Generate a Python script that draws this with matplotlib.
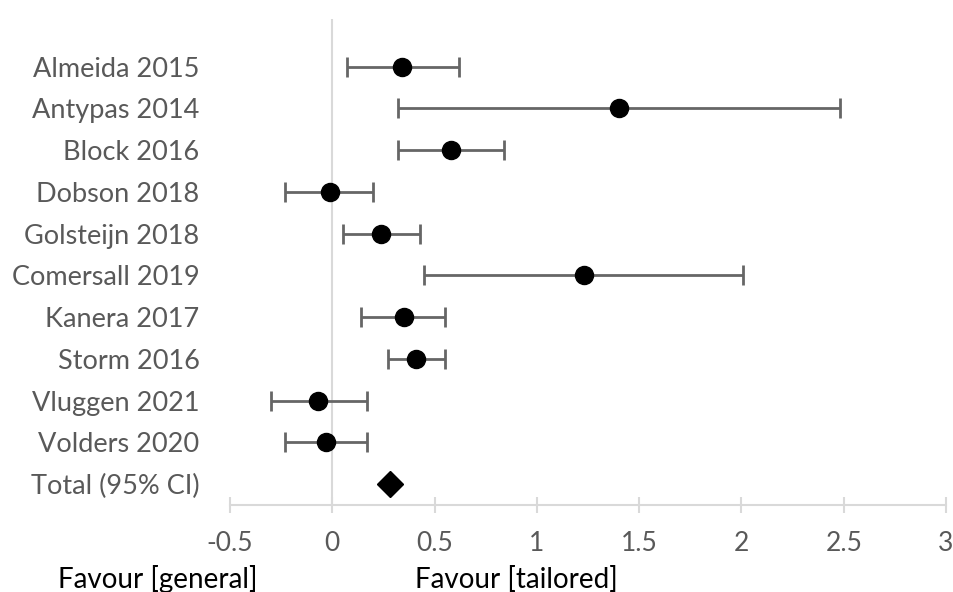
import matplotlib
matplotlib.use("Agg")
import matplotlib.pyplot as plt

# ── Data ──────────────────────────────────────────────────────────────────────
studies = ["Almeida 2015", "Antypas 2014", "Block 2016", "Dobson 2018",
           "Golsteijn 2018", "Comersall 2019", "Kanera 2017", "Storm 2016",
           "Vluggen 2021", "Volders 2020"]
effect = [0.34, 1.40, 0.58, -0.01, 0.24, 1.23, 0.35, 0.41, -0.07, -0.03]
ci_low = [0.07, 0.32, 0.32, -0.23, 0.05, 0.45, 0.14, 0.27, -0.30, -0.23]
ci_high = [0.62, 2.48, 0.84, 0.20, 0.43, 2.01, 0.55, 0.55, 0.17, 0.17]
total_label = "Total (95% CI)"
total_effect = 0.28
xticks = [-0.5, 0, 0.5, 1, 1.5, 2, 2.5, 3]

plt.rcParams["font.family"] = ["Lato", "DejaVu Sans"]
GREY_TXT = "#595959"
AXIS_GREY = "#d9d9d9"

fig = plt.figure(figsize=(9.54, 5.92), dpi=100)
ax = fig.add_axes([230 / 954, 1 - 505 / 592, (946 - 230) / 954, (505 - 19) / 592])

rows = list(range(len(studies)))
xerr = [[e - lo for e, lo in zip(effect, ci_low)],
        [hi - e for e, hi in zip(effect, ci_high)]]
ax.errorbar(effect, rows, xerr=xerr, fmt="o", color="black", ms=13,
            ecolor="#666666", elinewidth=2, capsize=7, capthick=2, zorder=3)
ax.plot([total_effect], [len(studies)], marker="D", color="black", ms=13,
        linestyle="none", zorder=3)

ax.axvline(0, color=AXIS_GREY, lw=1.5, zorder=1)

ax.set_xlim(-0.5, 3)
ax.set_ylim(len(studies) + 0.5, -1.14)
ax.set_xticks(xticks)
ax.set_xticklabels([f"{t:g}" for t in xticks])
ax.set_yticks(rows + [len(studies)])
ax.set_yticklabels(studies + [total_label])

for side in ["top", "right", "left"]:
    ax.spines[side].set_visible(False)
ax.spines["bottom"].set_color(AXIS_GREY)
ax.spines["bottom"].set_linewidth(1.5)

ax.tick_params(axis="x", direction="inout", length=12, width=1.5,
               color=AXIS_GREY, labelsize=19, labelcolor=GREY_TXT, pad=13)
ax.tick_params(axis="y", length=0, labelsize=19.5, labelcolor=GREY_TXT, pad=22)

fig.text(58 / 954, 1 - 588 / 592, "Favour [general]", fontsize=20,
         color="black", va="baseline", ha="left")
fig.text(415 / 954, 1 - 588 / 592, "Favour [tailored]", fontsize=20,
         color="black", va="baseline", ha="left")

plt.savefig("out.png", dpi=100)
